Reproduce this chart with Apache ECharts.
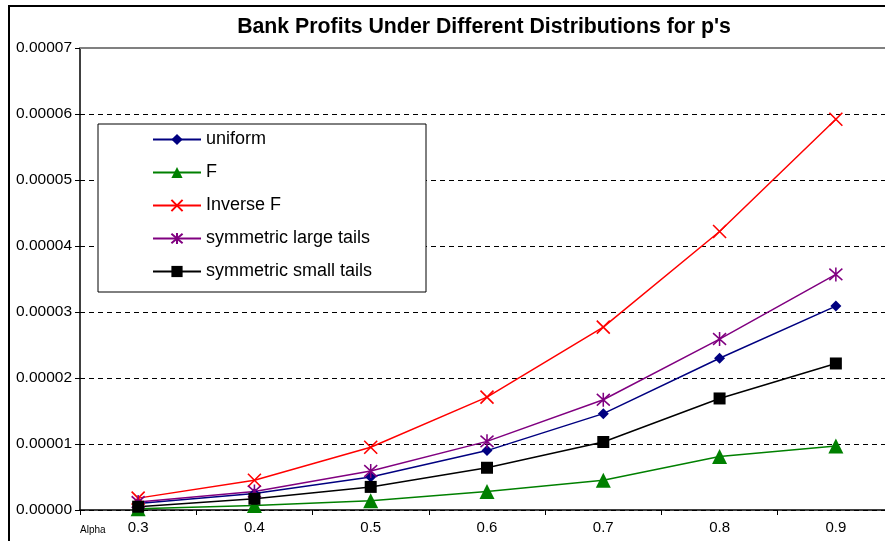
<!DOCTYPE html>
<html lang="en">
<head>
	<meta charset="UTF-8">
	<title>Bank Profits</title>
	<script src="https://cdn.jsdelivr.net/npm/echarts@6/dist/echarts.min.js"></script>
	<style>
		html, body { margin: 0; padding: 0; background: #fff; }
		#main { width: 885px; height: 541px; }
	</style>
</head>
<body>
<div id="main"></div>
<script>
// categories on x axis (Alpha)
var alphas = ['0.3', '0.4', '0.5', '0.6', '0.7', '0.8', '0.9'];
// series values
var uniform = [0.0000010, 0.0000025, 0.0000050, 0.0000090, 0.0000146, 0.0000230, 0.0000309];
var fDist = [0.0000002, 0.0000007, 0.0000014, 0.0000028, 0.0000045, 0.0000081, 0.0000097];
var inverseF = [0.0000018, 0.0000045, 0.0000095, 0.0000171, 0.0000277, 0.0000422, 0.0000592];
var largeTails = [0.0000012, 0.0000028, 0.0000059, 0.0000104, 0.0000167, 0.0000259, 0.0000357];
var smallTails = [0.0000005, 0.0000017, 0.0000035, 0.0000064, 0.0000103, 0.0000169, 0.0000222];
var yMax = 0.00007;
var yStep = 0.00001;

var chart = echarts.init(document.getElementById('main'));

var crossPath = 'path://M0,0L10,10M10,0L0,10';
var starPath = 'path://M0,0L10,10M10,0L0,10M5,-1L5,11';

function lineSeries(name, data, color, symbol, size, stroke) {
    return {
        name: name,
        type: 'line',
        data: data,
        symbol: symbol,
        symbolSize: size,
        showAllSymbol: true,
        lineStyle: { color: color, width: 1.5 },
        itemStyle: { color: color, borderColor: color, borderWidth: stroke ? 1.6 : 0 },
        emphasis: { disabled: true },
        animation: false
    };
}

var series = [
    lineSeries('uniform', uniform, '#000080', 'diamond', 11, false),
    lineSeries('F', fDist, '#008000', 'triangle', 15, false),
    lineSeries('Inverse F', inverseF, '#ff0000', crossPath, 13, true),
    lineSeries('symmetric large tails', largeTails, '#800080', starPath, [13, 14], true),
    lineSeries('symmetric small tails', smallTails, '#000000', 'rect', 12, false)
];

var option = {
    backgroundColor: '#fff',
    animation: false,
    title: {
        text: "Bank Profits Under Different Distributions for p's",
        left: 479,
        textAlign: 'center',
        top: 12,
        textStyle: { fontFamily: 'Liberation Sans, Arial', fontSize: 21.3, fontWeight: 'bold', color: '#000' }
    },
    legend: {
        orient: 'vertical',
        left: 98,
        top: 124,
        backgroundColor: '#fff',
        borderColor: '#000',
        borderWidth: 1,
        padding: [5, 54, 10, 54],
        itemWidth: 48,
        itemHeight: 14,
        itemGap: 12,
        textStyle: { fontFamily: 'Liberation Sans, Arial', fontSize: 18, color: '#000', lineHeight: 21 },
        data: ['uniform', 'F', 'Inverse F', 'symmetric large tails', 'symmetric small tails']
    },
    grid: { left: 80, width: 814, top: 48, bottom: 31, containLabel: false, outerBoundsMode: 'none' },
    xAxis: [{
        type: 'category',
        data: alphas,
        boundaryGap: true,
        axisLine: { lineStyle: { color: '#000', width: 1.5 } },
        axisTick: { show: true, length: 5, lineStyle: { color: '#000' } },
        axisLabel: { color: '#000', fontFamily: 'Liberation Sans, Arial', fontSize: 15, margin: 10 },
        splitLine: { show: false }
    }, {
        // grey solid line along the top of the plot
        type: 'category',
        data: alphas,
        position: 'top',
        axisLine: { show: true, lineStyle: { color: '#808080', width: 2 } },
        axisTick: { show: false },
        axisLabel: { show: false },
        splitLine: { show: false }
    }],
    yAxis: {
        type: 'value',
        min: 0,
        max: yMax,
        interval: yStep,
        axisLine: { show: true, lineStyle: { color: '#000', width: 1.5 } },
        axisTick: { show: true, length: 5, lineStyle: { color: '#000' } },
        axisLabel: {
            color: '#000', fontFamily: 'Liberation Sans, Arial', fontSize: 15.5, margin: 8,
            formatter: function (v) { return v.toFixed(5); }
        },
        splitLine: { show: true, lineStyle: { color: '#000', type: [5, 4], width: 1 } }
    },
    graphic: [
        { type: 'rect', shape: { x: 9, y: 6, width: 900, height: 600 }, style: { fill: 'none', stroke: '#000', lineWidth: 2 }, silent: true, z: 100 },
        { type: 'text', left: 80, top: 525, style: { text: 'Alpha', fontSize: 10, fontFamily: 'Liberation Sans, Arial', fill: '#000' }, silent: true }
    ],
    series: series
};

chart.setOption(option);
</script>
</body>
</html>
